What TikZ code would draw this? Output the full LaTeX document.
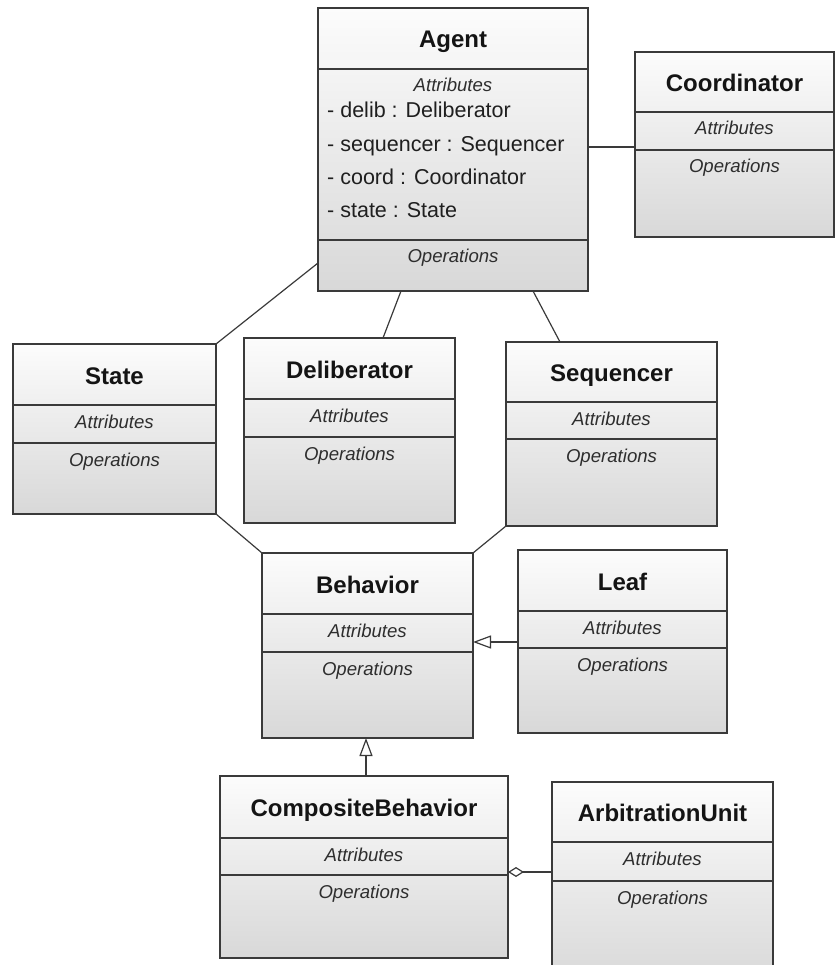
\documentclass[tikz,border=0pt]{standalone}
\usepackage{fontspec}
\setmainfont{Liberation Sans}
\usetikzlibrary{arrows.meta}

\definecolor{umlline}{HTML}{3A3A3A}
\definecolor{umltop}{HTML}{FCFCFC}
\definecolor{umlbot}{HTML}{D8D8D8}

\tikzset{
  classbox/.style={draw=umlline, line width=1.4pt, top color=umltop, bottom color=umlbot,
    inner sep=0pt, outer sep=0pt, anchor=north west},
  divider/.style={draw=umlline, line width=1.3pt},
  titletext/.style={font=\fontsize{24}{28}\selectfont\bfseries, inner sep=0pt, anchor=base, text=black!92},
  comptext/.style={font=\fontsize{18.6}{22}\selectfont\itshape, inner sep=0pt, anchor=base, text=black!82},
  attrtext/.style={font=\fontsize{21.5}{25}\selectfont, inner sep=0pt, anchor=base west, text=black!88},
  assoc/.style={draw=umlline, line width=1.2pt},
  generalize/.style={assoc, -{Triangle[fill=white, length=18pt, width=13pt]}},
  aggregate/.style={assoc, {Diamond[fill=white, length=16pt, width=10pt]}-},
}

% class box: name, left, top, right, bottom, first divider, second divider, title
\newcommand\umlclass[8]{%
  \node[classbox, minimum width={(#4-#2)*1pt}, minimum height={(#5-#3)*1pt}] (#1) at (#2,#3) {};
  \draw[divider] (#2,#6) -- (#4,#6);
  \draw[divider] (#2,#7) -- (#4,#7);
  \node[titletext] (#1-title) at ({(#2+#4)/2},{(#3+#6)/2+9.5}) {#8};
  \node[comptext] (#1-attr) at ({(#2+#4)/2},{#6+23}) {Attributes};
  \node[comptext] (#1-ops) at ({(#2+#4)/2},{#7+23}) {Operations};
}

\begin{document}
\begin{tikzpicture}[x=1pt, y=-1pt]
  \useasboundingbox (0,0) rectangle (835,965);

  % classes
  \umlclass{agent}{318}{8}{588}{291}{69}{240}{Agent}
  \umlclass{coordinator}{635}{52}{834}{237}{112}{150}{Coordinator}
  \umlclass{state}{13}{344}{216}{514}{405}{443}{State}
  \umlclass{deliberator}{244}{338}{455}{523}{399}{437}{Deliberator}
  \umlclass{sequencer}{506}{342}{717}{526}{402}{439}{Sequencer}
  \umlclass{behavior}{262}{553}{473}{738}{614}{652}{Behavior}
  \umlclass{leaf}{518}{550}{727}{733}{611}{648}{Leaf}
  \umlclass{composite}{220}{776}{508}{958}{838}{875}{CompositeBehavior}
  \umlclass{arbitration}{552}{782}{773}{985}{842}{881}{ArbitrationUnit}

  % Agent attributes
  \node[attrtext] (agent-a1) at (327,118) {- delib : Deliberator};
  \node[attrtext] (agent-a2) at (327,152) {- sequencer : Sequencer};
  \node[attrtext] (agent-a3) at (327,185) {- coord : Coordinator};
  \node[attrtext] (agent-a4) at (327,218) {- state : State};

  % associations
  \draw[assoc] (agent.west |- 0,263) -- (state.north east);
  \draw[assoc] (agent.south -| 401,0) -- (deliberator.north -| 383,0);
  \draw[assoc] (agent.south -| 533,0) -- (sequencer.north -| 560,0);
  \draw[assoc] (agent.east |- 0,147) -- (coordinator.west |- 0,147);
  \draw[assoc] (state.south east) -- (behavior.north west);
  \draw[assoc] (sequencer.south west) -- (behavior.north east);

  % generalizations
  \draw[generalize] (leaf.west |- 0,642) -- (behavior.east |- 0,642);
  \draw[generalize] (composite.north -| 366,0) -- (behavior.south -| 366,0);

  % aggregation
  \draw[aggregate] (composite.east |- 0,872) -- (arbitration.west |- 0,872);
\end{tikzpicture}
\end{document}
